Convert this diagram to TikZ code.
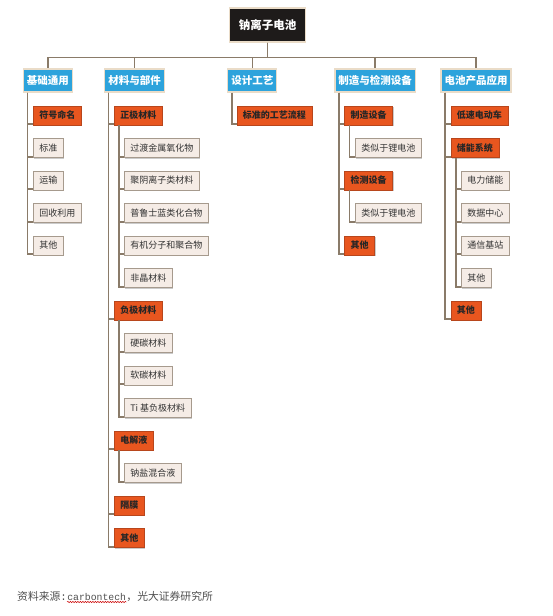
\documentclass[tikz,border=0pt]{standalone}
\usepackage{fontspec}
\setmainfont{Noto Sans CJK SC}
\newfontfamily\srcmono{Liberation Mono}
\usetikzlibrary{shadows}
\usetikzlibrary{decorations.pathmorphing}

\definecolor{lineC}{HTML}{8A7B69}
\definecolor{rootC}{HTML}{1E1B1A}
\definecolor{headC}{HTML}{2DA3DC}
\definecolor{edgeC}{HTML}{EADCC8}
\definecolor{catC}{HTML}{E8561F}
\definecolor{catE}{HTML}{B8461C}
\definecolor{leafC}{HTML}{F5ECE6}
\definecolor{leafE}{HTML}{A69A8D}
\definecolor{srcC}{HTML}{505050}

\begin{document}
\begin{tikzpicture}[
    x=1pt, y=-1pt,
    tree/.style={draw=lineC, line width=1.6pt},
    rootbox/.style={fill=rootC, draw=edgeC, line width=1.2pt, text=white,
        font=\bfseries\fontsize{11.5}{13}\selectfont,
        minimum height=34pt, inner xsep=9pt},
    headbox/.style={fill=headC, draw=edgeC, line width=1.2pt, text=white,
        font=\bfseries\fontsize{10.5}{12}\selectfont,
        minimum height=23pt, inner xsep=3.5pt},
    catbox/.style={fill=catC, draw=catE, line width=.5pt, text=black!85,
        font=\bfseries\fontsize{9}{10}\selectfont,
        minimum height=19pt, inner xsep=6pt, inner ysep=0pt, anchor=west,
        drop shadow={shadow xshift=1pt, shadow yshift=-1pt, fill=black!40}},
    leafbox/.style={fill=leafC, draw=leafE, line width=.5pt, text=black!80,
        font=\fontsize{9}{10}\selectfont,
        minimum height=19pt, inner xsep=6pt, inner ysep=0pt, anchor=west,
        drop shadow={shadow xshift=1pt, shadow yshift=-1pt, fill=black!40}},
    srctext/.style={inner sep=0pt, text=srcC, anchor=base west,
        font=\fontsize{10.8}{12}\selectfont}
]
\useasboundingbox (0,0) rectangle (552,616);
\fill[white] (0,0) rectangle (552,616);

\def\rH{32.5}
\def\yO{115.5}
\def\xA{33}
\def\xB{114}
\def\xBB{124}
\def\xC{236.7}
\def\xD{344.3}
\def\xDD{355}
\def\xE{450.7}
\def\xEE{461}

% Root and first level
\node[rootbox] (root) at (267.5,25) {钠离子电池};

\node[headbox] (base) at (48,80.5) {基础通用};
\node[headbox] (mat) at (134.5,80.5) {材料与部件};
\node[headbox] (des) at (252.3,80.5) {设计工艺};
\node[headbox] (man) at (375.2,80.5) {制造与检测设备};
\node[headbox] (app) at (476,80.5) {电池产品应用};

\foreach \h in {base,mat,des,man,app}
  \draw[tree] (root.south) -- ++(0,15) -| (\h.north);

% Basics
\node[catbox] (sym) at (\xA,\yO) {符号命名};
\foreach \t [count=\i] in {标准,运输,回收利用,其他}
  \node[leafbox] (ba\i) at (\xA,\yO+\i*\rH) {\t};
\foreach \c in {sym,ba1,ba2,ba3,ba4}
  \draw[tree] ([xshift=4.5pt]base.south west) |- ([yshift=1pt]\c.south west);

% Materials and parts
\node[catbox] (pos) at (\xB,\yO) {正极材料};
\foreach \t [count=\i] in {过渡金属氧化物,聚阴离子类材料,普鲁士蓝类化合物,有机分子和聚合物,非晶材料}
  \node[leafbox] (pos\i) at (\xBB,\yO+\i*\rH) {\t};
\node[catbox] (neg) at (\xB,\yO+6*\rH) {负极材料};
\foreach \t [count=\i] in {硬碳材料,软碳材料,Ti 基负极材料}
  \node[leafbox] (neg\i) at (\xBB,{\yO+(\i+6)*\rH}) {\t};
\node[catbox] (ele) at (\xB,\yO+10*\rH) {电解液};
\node[leafbox] (ele1) at (\xBB,\yO+11*\rH) {钠盐混合液};
\node[catbox] (sep) at (\xB,\yO+12*\rH) {隔膜};
\node[catbox] (mato) at (\xB,\yO+13*\rH) {其他};

\foreach \c in {pos,neg,ele,sep,mato}
  \draw[tree] ([xshift=4.5pt]mat.south west) |- ([yshift=1pt]\c.south west);
\foreach \c in {pos1,pos2,pos3,pos4,pos5}
  \draw[tree] ([xshift=5pt]pos.south west) |- ([yshift=1pt]\c.south west);
\foreach \c in {neg1,neg2,neg3}
  \draw[tree] ([xshift=5pt]neg.south west) |- ([yshift=1pt]\c.south west);
\draw[tree] ([xshift=5pt]ele.south west) |- ([yshift=1pt]ele1.south west);

% Design
\node[catbox] (flow) at (\xC,\yO) {标准的工艺流程};
\draw[tree] ([xshift=4.5pt]des.south west) |- ([yshift=1pt]flow.south west);

% Manufacturing and testing
\node[catbox] (mk) at (\xD,\yO) {制造设备};
\node[leafbox] (mk1) at (\xDD,\yO+\rH) {类似于锂电池};
\node[catbox] (ts) at (\xD,\yO+2*\rH) {检测设备};
\node[leafbox] (ts1) at (\xDD,\yO+3*\rH) {类似于锂电池};
\node[catbox] (mano) at (\xD,\yO+4*\rH) {其他};

\foreach \c in {mk,ts,mano}
  \draw[tree] ([xshift=4.5pt]man.south west) |- ([yshift=1pt]\c.south west);
\draw[tree] ([xshift=5pt]mk.south west) |- ([yshift=1pt]mk1.south west);
\draw[tree] ([xshift=5pt]ts.south west) |- ([yshift=1pt]ts1.south west);

% Applications
\node[catbox] (ev) at (\xE,\yO) {低速电动车};
\node[catbox] (ess) at (\xE,\yO+\rH) {储能系统};
\foreach \t [count=\i] in {电力储能,数据中心,通信基站,其他}
  \node[leafbox] (ess\i) at (\xEE,{\yO+(\i+1)*\rH}) {\t};
\node[catbox] (appo) at (\xE,\yO+6*\rH) {其他};

\foreach \c in {ev,ess,appo}
  \draw[tree] ([xshift=4.5pt]app.south west) |- ([yshift=1pt]\c.south west);
\foreach \c in {ess1,ess2,ess3,ess4}
  \draw[tree] ([xshift=5pt]ess.south west) |- ([yshift=1pt]\c.south west);

% Source line
\node[srctext] (src1) at (17,600) {资料来源{\srcmono :}};
\node[srctext, font=\srcmono\fontsize{9.8}{11}\selectfont] (srcLat) at (src1.base east) {carbontech};
\node[srctext] (src2) at (srcLat.base east) {，光大证券研究所};
\draw[red!80!black, line width=.5pt, decorate,
      decoration={snake, amplitude=.7pt, segment length=2.5pt}]
  ([yshift=-2pt]srcLat.base west) -- ([yshift=-2pt]srcLat.base east);

\end{tikzpicture}
\end{document}
